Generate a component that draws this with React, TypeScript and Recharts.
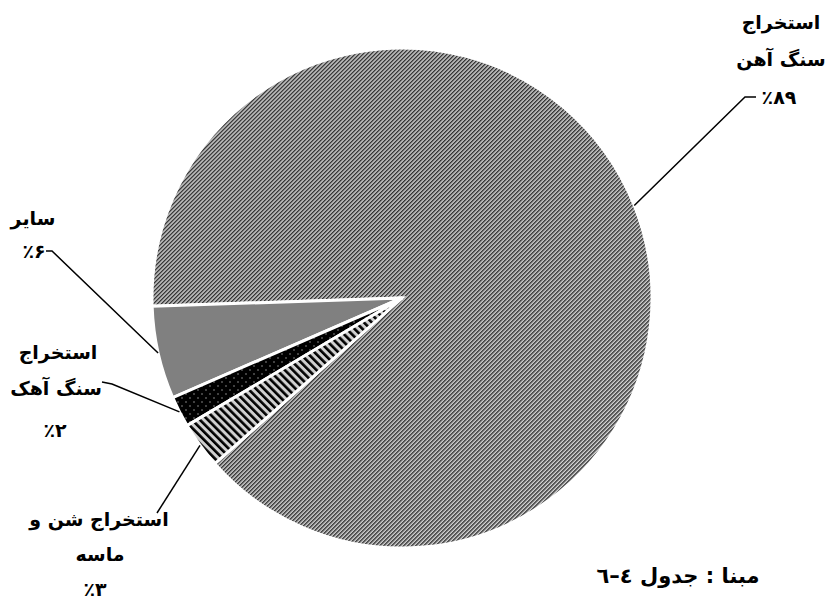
import React from "react";
import { PieChart, Pie, Cell } from "recharts";

const categories = ["استخراج سنگ آهن", "سایر", "استخراج سنگ آهک", "استخراج شن و ماسه"];
const shares = [89, 6, 2, 3];
const labelLines: string[][] = [
  ["استخراج", "سنگ آهن", "٪۸۹"],
  ["سایر", "٪۶"],
  ["استخراج", "سنگ آهک", "٪۲"],
  ["استخراج شن و", "ماسه", "٪۳"],
];
const caption = "مبنا : جدول ٤–٦";

const data = categories.map((name, i) => ({ name, value: shares[i] }));

const fills = ["url(#hatchBig)", "#808080", "url(#dotsBlack)", "url(#stripeSand)"];

// label layout: elbow points and text block positions
const layout = [
  { elbow: [[745, 97], [756, 97]], tx: [781, 781, 779], ty: [22, 59, 97] },
  { elbow: [[52, 251], [46, 251]], tx: [33, 34], ty: [218, 251] },
  { elbow: [[112, 384], [102, 382]], tx: [58, 56, 55], ty: [352, 388, 430] },
  { elbow: [[157, 513]], tx: [99, 100, 95], ty: [519, 554, 589] },
];

const FONT = "'DejaVu Sans', sans-serif";

const renderLabel = (p: any) => {
  const { cx, cy, outerRadius, midAngle, index } = p;
  const RAD = Math.PI / 180;
  const sx = cx + outerRadius * Math.cos(-midAngle * RAD);
  const sy = cy + outerRadius * Math.sin(-midAngle * RAD);
  const L = layout[index];
  const pts = [[sx, sy], ...L.elbow].map((q) => q.join(",")).join(" ");
  return (
    <g key={`lab-${index}`}>
      <polyline points={pts} fill="none" stroke="#000" strokeWidth={1.5} />
      {labelLines[index].map((t, k) => (
        <text
          key={k}
          x={L.tx[k]}
          y={L.ty[k]}
          textAnchor="middle"
          dominantBaseline="central"
          fontFamily={FONT}
          fontWeight="bold"
          fontSize={19}
          fill="#000"
        >
          {t}
        </text>
      ))}
    </g>
  );
};

export default function App() {
  return (
    <div style={{ position: "absolute", left: 0, top: 0, width: 825, height: 602, background: "#fff" }}>
      <PieChart width={825} height={602} margin={{ top: 0, right: 0, bottom: 0, left: 0 }}>
        <defs>
          <pattern id="hatchBig" width="2.83" height="2.83" patternUnits="userSpaceOnUse" patternTransform="rotate(45)">
            <rect width="2.83" height="2.83" fill="#dcdcdc" />
            <rect width="1.45" height="2.83" fill="#333" />
          </pattern>
          <pattern id="stripeSand" width="5.6" height="5.6" patternUnits="userSpaceOnUse" patternTransform="rotate(-45)">
            <rect width="5.6" height="5.6" fill="#d0d0d0" />
            <rect width="2.6" height="5.6" fill="#000" />
          </pattern>
          <pattern id="dotsBlack" width="8" height="8" patternUnits="userSpaceOnUse">
            <rect width="8" height="8" fill="#000" />
            <rect x="1.5" y="1.5" width="1" height="1" fill="#fff" />
            <rect x="5.5" y="5.5" width="1" height="1" fill="#fff" />
          </pattern>
        </defs>
        <Pie
          data={data}
          dataKey="value"
          nameKey="name"
          cx={402}
          cy={298}
          outerRadius={250}
          startAngle={221.5}
          endAngle={581.5}
          stroke="#fff"
          strokeWidth={3}
          label={renderLabel}
          labelLine={false}
          isAnimationActive={false}
        >
          {data.map((d, i) => (
            <Cell key={d.name} fill={fills[i]} />
          ))}
        </Pie>
        <text
          x={678}
          y={576}
          textAnchor="middle"
          dominantBaseline="central"
          fontFamily={FONT}
          fontWeight="bold"
          fontSize={21}
          fill="#000"
        >
          {caption}
        </text>
      </PieChart>
    </div>
  );
}
